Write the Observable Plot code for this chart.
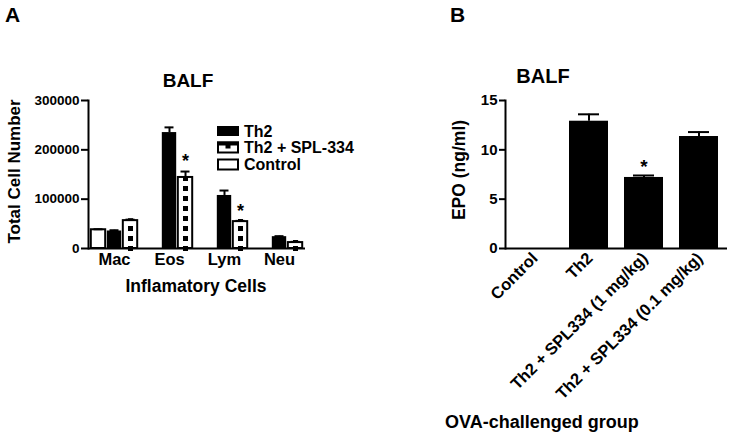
<!DOCTYPE html>
<html><head><meta charset="utf-8">
<script src="https://cdn.jsdelivr.net/npm/d3@7"></script>
<script src="https://cdn.jsdelivr.net/npm/@observablehq/plot@0.6"></script>
<style>
html,body{margin:0;padding:0;background:#fff;}
#fig{position:relative;width:731px;height:437px;overflow:hidden;background:#fff;font-family:"Liberation Sans",Arial,sans-serif;font-weight:bold;}
#fig > svg{position:absolute;overflow:visible;}
</style></head><body><div id="fig"></div>
<script>
// ---- Panel A data ----
const cells = ["Mac","Eos","Lym","Neu"];
const seriesNames = ["Control","Th2","Th2 + SPL-334"];
const legendOrder = ["Th2","Th2 + SPL-334","Control"];
const controlVals = [38000,0,0,0];
const controlErr = [1000,0,0,0];
const th2Vals = [35500,235000,107500,24000];
const th2Err = [1500,10500,10000,1000];
const splVals = [56500,144000,54500,12000];
const splErr = [2000,12000,1500,1500];
const leftSig = ["Eos","Lym"];
const leftTicks = [0,100000,200000,300000];

// ---- Panel B data ----
const groups = ["Control","Th2","Th2 + SPL334 (1 mg/kg)","Th2 + SPL334 (0.1 mg/kg)"];
const epoVals = [0,12.9,7.2,11.35];
const epoErr = [0,0.7,0.2,0.45];
const rightSig = ["Th2 + SPL334 (1 mg/kg)"];
const rightTicks = [0,5,10,15];

const FONT = "Liberation Sans, Arial, sans-serif";
const fig = document.getElementById("fig");

// ---------- Left panel ----------
const L = {width:380,height:300,top:100,bottom:52,left:88,right:75};
const pi = 0.127, po = 0.036;
const plotW = L.width - L.left - L.right;
const step = plotW / (cells.length - pi + 2*po);
const B = step*(1-pi);
const w = B/3, g = 1.6;
function slot(i){ return {insetLeft: i*w + g/2, insetRight: B-(i+1)*w + g/2}; }
function capSlot(i, half){ const c = i*w + w/2; return {insetLeft: c-half, insetRight: B-c-half}; }

const vals = [controlVals, th2Vals, splVals];
const errs = [controlErr, th2Err, splErr];
const rows = vals.map((v,i) => cells.map((c,k) => ({cell:c, series:seriesNames[i], value:v[k], err:errs[i][k]})));

const leftMarks = [];
leftMarks.push(Plot.barY(rows[0].filter(d=>d.value>0), {x:"cell", y:"value", fill:"white", stroke:"black", strokeWidth:2, ...slot(0)}));
leftMarks.push(Plot.barY(rows[1], {x:"cell", y:"value", fill:"black", ...slot(1)}));
leftMarks.push(Plot.barY(rows[2], {x:"cell", y:"value", fill:"white", stroke:"black", strokeWidth:2, ...slot(2)}));
leftMarks.push(Plot.ruleX(rows[2], {x:"cell", y1:0, y2:"value", dx:w, stroke:"black", strokeWidth:5, strokeDasharray:"5,5", insetTop:3, insetBottom:2}));
rows.forEach((r,i) => {
  const rr = r.filter(d=>d.err>0);
  leftMarks.push(Plot.ruleX(rr, {x:"cell", y1:"value", y2:d=>d.value+d.err, dx:(i-1)*w, stroke:"black", strokeWidth:2}));
  leftMarks.push(Plot.tickY(rr, {x:"cell", y:d=>d.value+d.err, stroke:"black", strokeWidth:2, ...capSlot(i,4.5)}));
});
leftMarks.push(Plot.text(rows[2].filter(d=>leftSig.includes(d.cell)), {x:"cell", y:d=>d.value+d.err, text:()=>"*", dx:w, dy:-10, fontSize:18, fontWeight:"bold", fill:"black"}));
leftMarks.push(Plot.ruleY([0], {stroke:"black", strokeWidth:2}));
leftMarks.push(Plot.frame({anchor:"left", stroke:"black", strokeWidth:2}));
leftMarks.push(Plot.axisY({ticks:leftTicks, tickFormat:d3.format("d"), tickSize:7, tickPadding:2, strokeWidth:2, fontSize:13.5, fontWeight:"bold", label:null}));
leftMarks.push(Plot.axisX({tickSize:0, tickPadding:5, fontSize:16.5, fontWeight:"bold", label:null}));

const left = Plot.plot({
  width:L.width, height:L.height,
  marginTop:L.top, marginBottom:L.bottom, marginLeft:L.left, marginRight:L.right,
  x:{type:"band", domain:cells, paddingInner:pi, paddingOuter:po},
  y:{domain:[0,300000]},
  style:{fontFamily:FONT, fontWeight:"bold", color:"black", background:"transparent", overflow:"visible"},
  marks:leftMarks
});
left.style.left = "0px"; left.style.top = "0px";
fig.appendChild(left);

// ---------- Right panel ----------
const R = {width:351,height:400,top:100,bottom:152,left:125,right:4};
const rRows = groups.map((gname,k) => ({group:gname, value:epoVals[k], err:epoErr[k]}));
const right = Plot.plot({
  width:R.width, height:R.height,
  marginTop:R.top, marginBottom:R.bottom, marginLeft:R.left, marginRight:R.right,
  x:{type:"band", domain:groups, paddingInner:0.3, paddingOuter:0.15},
  y:{domain:[0,15]},
  style:{fontFamily:FONT, fontWeight:"bold", color:"black", background:"transparent", overflow:"visible"},
  marks:[
    Plot.barY(rRows.filter(d=>d.value>0), {x:"group", y:"value", fill:"black"}),
    Plot.ruleX(rRows.filter(d=>d.err>0), {x:"group", y1:"value", y2:d=>d.value+d.err, stroke:"black", strokeWidth:2}),
    Plot.tickY(rRows.filter(d=>d.err>0), {x:"group", y:d=>d.value+d.err, stroke:"black", strokeWidth:2, insetLeft:9, insetRight:9}),
    Plot.text(rRows.filter(d=>rightSig.includes(d.group)), {x:"group", y:d=>d.value+d.err, text:()=>"*", dy:-9, fontSize:19, fontWeight:"bold", fill:"black"}),
    Plot.ruleY([0], {stroke:"black", strokeWidth:2}),
    Plot.frame({anchor:"left", stroke:"black", strokeWidth:2}),
    Plot.axisY({ticks:rightTicks, tickSize:6, tickPadding:2, strokeWidth:2, fontSize:15, fontWeight:"bold", label:null}),
    Plot.axisX({tickSize:0, tickPadding:7, tickRotate:-45, dx:1, fontSize:16.5, fontWeight:"bold", label:null})
  ]
});
right.style.left = "380px"; right.style.top = "0px";
fig.appendChild(right);

// ---------- Overlay: titles, panel letters, legend ----------
const ns = "http://www.w3.org/2000/svg";
const ov = document.createElementNS(ns, "svg");
ov.setAttribute("width", 731); ov.setAttribute("height", 437);
ov.style.left = "0px"; ov.style.top = "0px";
ov.setAttribute("font-family", FONT); ov.setAttribute("font-weight", "bold");
fig.appendChild(ov);
function txt(s, x, y, size, opts={}){
  const t = document.createElementNS(ns, "text");
  t.textContent = s;
  t.setAttribute("font-size", size);
  t.setAttribute("text-anchor", opts.anchor || "start");
  if (opts.rotate) t.setAttribute("transform", `translate(${x},${y}) rotate(${opts.rotate})`);
  else { t.setAttribute("x", x); t.setAttribute("y", y); }
  ov.appendChild(t); return t;
}
function rect(x,y,wd,ht,fill,stroke){
  const r = document.createElementNS(ns, "rect");
  r.setAttribute("x",x); r.setAttribute("y",y); r.setAttribute("width",wd); r.setAttribute("height",ht);
  r.setAttribute("fill",fill); if(stroke){r.setAttribute("stroke",stroke); r.setAttribute("stroke-width",2);}
  ov.appendChild(r);
}
txt("A", 5, 22, 21);
txt("B", 450, 22, 21);
txt("BALF", 188, 87, 19, {anchor:"middle"});
txt("BALF", 543, 83, 20, {anchor:"middle"});
txt("Total Cell Number", 20, 171.5, 17, {anchor:"middle", rotate:-90});
txt("EPO (ng/ml)", 465, 170, 17.5, {anchor:"middle", rotate:-90});
txt("Inflamatory Cells", 196, 292, 17.5, {anchor:"middle"});
txt("OVA-challenged group", 445, 428, 18);

const legY = [131, 147.5, 164.5];
legendOrder.forEach((name, i) => {
  const cy = legY[i];
  if (name === "Th2") rect(217, cy-5, 22, 10, "black");
  else if (name === "Control") rect(218, cy-5, 20, 10, "white", "black");
  else { rect(218, cy-5, 20, 10, "white", "black"); rect(217, cy-6, 22, 4, "black"); rect(225.5, cy-3, 5, 4, "black"); }
  txt(name, 244, cy+5.5, 16);
});
</script></body></html>
